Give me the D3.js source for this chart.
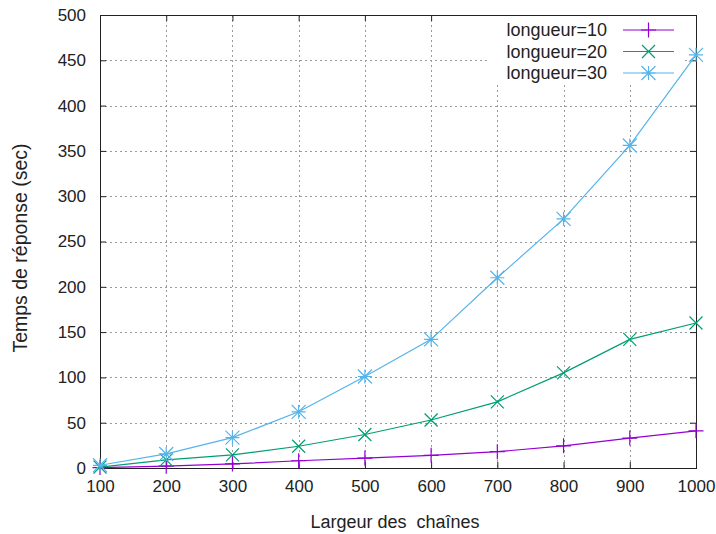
<!DOCTYPE html>
<html>
<head>
<meta charset="utf-8">
<script src="https://cdn.jsdelivr.net/npm/d3@7"></script>
<style>
  html, body { margin: 0; padding: 0; background: #fff; }
  svg text { font-family: "Liberation Sans", Arial, sans-serif; fill: #222; }
</style>
</head>
<body>
<svg id="chart" width="716" height="534"></svg>
<script>
// Widths tested (x values)
const largeurs = [100, 200, 300, 400, 500, 600, 700, 800, 900, 1000];

// Response time in seconds for each string length
const longueur10 = [0.5, 2, 4.5, 8, 11, 14, 18, 24.5, 33, 41];
const longueur20 = [1, 9, 14.5, 24, 37, 53, 73, 105, 142, 160];
const longueur30 = [3, 15.5, 33.5, 62, 101, 142, 210, 275, 356, 456];

const seriesNames = ["longueur=10", "longueur=20", "longueur=30"];
const seriesColors = ["#9400d3", "#009e73", "#56b4e9"];
const seriesMarkers = ["plus", "cross", "star"];

const xTicks = [100, 200, 300, 400, 500, 600, 700, 800, 900, 1000];
const yTicks = [0, 50, 100, 150, 200, 250, 300, 350, 400, 450, 500];

const xTitle = "Largeur des  chaînes";
const yTitle = "Temps de réponse (sec)";

const series = [longueur10, longueur20, longueur30].map((vals, i) => ({
  name: seriesNames[i],
  color: seriesColors[i],
  marker: seriesMarkers[i],
  points: largeurs.map((x, j) => ({ x, y: vals[j] }))
}));

const svg = d3.select("#chart");
const plotLeft = 100, plotRight = 696, plotTop = 15, plotBottom = 468;

const x = d3.scaleLinear().domain([100, 1000]).range([plotLeft, plotRight]);
const y = d3.scaleLinear().domain([0, 500]).range([plotBottom, plotTop]);

// Grid lines (dotted)
const grid = svg.append("g");
grid.selectAll("line.gx").data(xTicks.slice(1, -1)).join("line")
  .attr("x1", d => Math.round(x(d)) + 0.5).attr("x2", d => Math.round(x(d)) + 0.5)
  .attr("y1", plotTop).attr("y2", plotBottom)
  .attr("stroke", "#9a9a9a").attr("stroke-width", 1).attr("stroke-dasharray", "2,3");
grid.selectAll("line.gy").data(yTicks.slice(1, -1)).join("line")
  .attr("y1", d => Math.round(y(d)) + 0.5).attr("y2", d => Math.round(y(d)) + 0.5)
  .attr("x1", plotLeft).attr("x2", plotRight)
  .attr("stroke", "#9a9a9a").attr("stroke-width", 1).attr("stroke-dasharray", "2,3");

// Axes: labels outside, ticks inward (mirrored on top and right)
const tickLen = 6;
const xAxis = svg.append("g").attr("transform", `translate(0,${plotBottom})`)
  .call(d3.axisBottom(x).tickValues(xTicks).tickSize(-tickLen).tickPadding(12).tickFormat(d3.format("d")));
const yAxis = svg.append("g").attr("transform", `translate(${plotLeft},0)`)
  .call(d3.axisLeft(y).tickValues(yTicks).tickSize(-tickLen).tickPadding(14).tickFormat(d3.format("d")));
svg.append("g").attr("transform", `translate(0,${plotTop})`)
  .call(d3.axisTop(x).tickValues(xTicks).tickSize(-tickLen).tickFormat(""));
svg.append("g").attr("transform", `translate(${plotRight},0)`)
  .call(d3.axisRight(y).tickValues(yTicks).tickSize(-tickLen).tickFormat(""));

svg.selectAll(".domain").remove();
svg.selectAll(".tick line").attr("stroke", "#222").attr("stroke-width", 1);
[xAxis, yAxis].forEach(a => a.selectAll("text")
  .style("font-family", '"Liberation Sans", Arial, sans-serif')
  .style("font-size", "17px").attr("fill", "#222"));

// Frame
svg.append("rect")
  .attr("x", plotLeft + 0.5).attr("y", plotTop + 0.5)
  .attr("width", plotRight - plotLeft).attr("height", plotBottom - plotTop)
  .attr("fill", "none").attr("stroke", "#222").attr("stroke-width", 1);

// Opaque key background hides the grid behind it
const keyBox = { x0: 488, x1: 682, y0: 16, y1: 85 };
svg.append("rect")
  .attr("x", keyBox.x0).attr("y", keyBox.y0)
  .attr("width", keyBox.x1 - keyBox.x0).attr("height", keyBox.y1 - keyBox.y0)
  .attr("fill", "#fff");

// Marker shapes
function markerPath(type, cx, cy, s) {
  const p = d3.path();
  if (type === "plus" || type === "star") {
    p.moveTo(cx - s, cy); p.lineTo(cx + s, cy);
    p.moveTo(cx, cy - s); p.lineTo(cx, cy + s);
  }
  if (type === "cross" || type === "star") {
    p.moveTo(cx - s, cy - s); p.lineTo(cx + s, cy + s);
    p.moveTo(cx - s, cy + s); p.lineTo(cx + s, cy - s);
  }
  return p.toString();
}
const markerSize = { plus: 7.5, cross: 6.5, star: 7 };

const line = d3.line().x(d => x(d.x)).y(d => y(d.y));

series.forEach(s => {
  const g = svg.append("g");
  g.append("path").datum(s.points)
    .attr("d", line).attr("fill", "none")
    .attr("stroke", s.color).attr("stroke-width", 1.2);
  g.selectAll("path.m").data(s.points).join("path")
    .attr("class", "m")
    .attr("d", d => markerPath(s.marker, x(d.x), y(d.y), markerSize[s.marker]))
    .attr("fill", "none").attr("stroke", s.color).attr("stroke-width", 1.2);
});

// Key
const key = svg.append("g");
series.forEach((s, i) => {
  const ry = 30 + i * 21.5;
  key.append("text")
    .attr("x", 607).attr("y", ry).attr("dy", "0.35em")
    .attr("text-anchor", "end").style("font-size", "18px")
    .text(s.name);
  key.append("line")
    .attr("x1", 623).attr("x2", 674).attr("y1", ry).attr("y2", ry)
    .attr("stroke", s.color).attr("stroke-width", 1.2);
  key.append("path")
    .attr("d", markerPath(s.marker, 648.5, ry, markerSize[s.marker]))
    .attr("fill", "none").attr("stroke", s.color).attr("stroke-width", 1.2);
});

// Axis titles
svg.append("text")
  .attr("x", 395).attr("y", 528)
  .attr("text-anchor", "middle").style("font-size", "18px")
  .style("white-space", "pre").attr("xml:space", "preserve")
  .text(xTitle);
svg.append("text")
  .attr("transform", "translate(27,248) rotate(-90)")
  .attr("text-anchor", "middle").style("font-size", "19.5px")
  .text(yTitle);
</script>
</body>
</html>
